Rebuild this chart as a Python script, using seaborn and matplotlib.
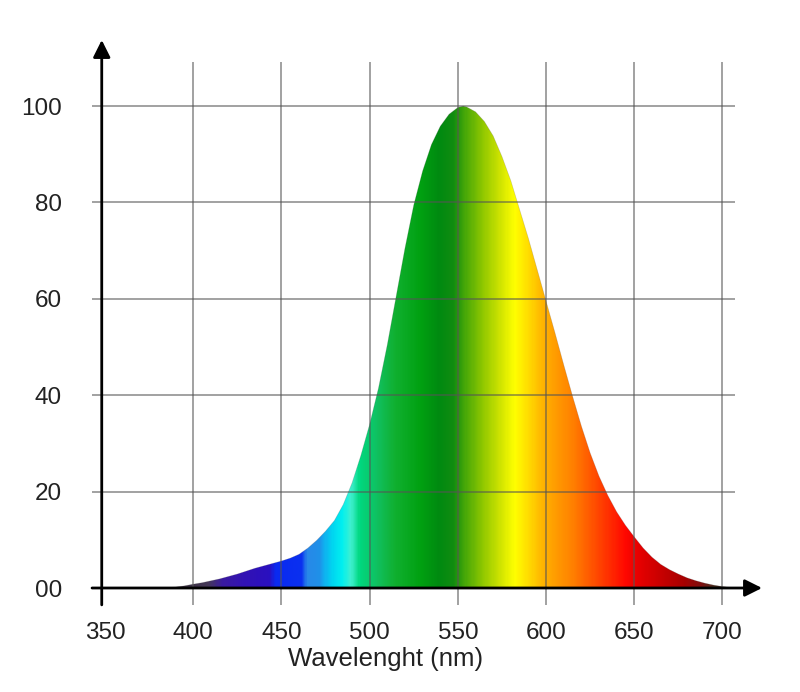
import numpy as np
import matplotlib
matplotlib.use("Agg")
import matplotlib.pyplot as plt
from matplotlib.colors import LinearSegmentedColormap
import seaborn as sns

# luminosity curve
wavelength = [380, 385, 390, 395, 400, 405, 410, 415, 420, 425, 430, 435, 440, 445,
              450, 455, 460, 465, 470, 475, 480, 485, 490, 495, 500, 505, 510, 515,
              520, 525, 530, 535, 540, 545, 550, 553, 555, 560, 565, 570, 575, 580, 585,
              590, 595, 600, 605, 610, 615, 620, 625, 630, 635, 640, 645, 650, 655,
              660, 665, 670, 675, 680, 685, 690, 695, 700, 705, 710]
luminosity = [0, 0.05, 0.2, 0.45, 0.8, 1.1, 1.5, 1.9, 2.4, 2.9, 3.5, 4.1, 4.6, 5.1,
              5.6, 6.2, 7.0, 8.3, 9.9, 11.8, 14.0, 17.3, 21.8, 27.5, 34.0, 41.5, 50.5, 60.5,
              70.5, 79.5, 86.5, 92.0, 95.8, 98.3, 99.7, 100, 99.8, 98.8, 96.8, 93.8, 89.5, 84.5, 78.5,
              72.5, 66.0, 59.5, 53.0, 46.3, 39.8, 33.6, 28.0, 23.2, 19.2, 15.8, 13.0, 10.6, 8.3,
              6.4, 4.9, 3.8, 2.9, 2.1, 1.5, 1.0, 0.6, 0.3, 0.1, 0]

x_ticks = [350, 400, 450, 500, 550, 600, 650, 700]
y_ticks = [0, 20, 40, 60, 80, 100]
y_tick_labels = ["00", "20", "40", "60", "80", "100"]

# spectrum colours under the curve
stop_nm = [380, 393, 408, 416, 428, 443, 446, 461, 464, 471, 474, 479, 484, 489,
           494, 504, 514, 529, 539, 547, 554, 564, 574, 582, 589, 597, 604, 615,
           625, 635, 645, 652, 665, 678, 688, 695, 710]
stop_col = ['#2a2a30', '#3a3040', '#453858', '#3a1aa0', '#3212b4', '#2a10c0', '#0a2af0',
            '#0a30f0', '#2888e8', '#2090e8', '#10b0f0', '#00d8f0', '#00f0f0', '#40f0d0',
            '#00d880', '#10c060', '#10b030', '#00a010', '#008a10', '#108c10', '#48a808',
            '#90c800', '#d0e400', '#ffff00', '#ffe000', '#ffb800', '#ffa000', '#ff8000',
            '#ff5800', '#ff3000', '#ff0800', '#e80000', '#c80000', '#a80000', '#801010',
            '#503020', '#302828']

sns.set_theme(style="white")
plt.rcParams['font.family'] = ['Liberation Sans', 'DejaVu Sans']

fig = plt.figure(figsize=(8, 6.92), dpi=100)
ax = fig.add_axes([0.09375, 0.1156, 0.88125, 0.841])

# spectrum fill, clipped to the area under the curve
pos = [(n - stop_nm[0]) / (stop_nm[-1] - stop_nm[0]) for n in stop_nm]
cmap = LinearSegmentedColormap.from_list("spec", list(zip(pos, stop_col)), N=512)
area = ax.fill_between(wavelength, luminosity, 0, color='none', lw=0)
grad = np.linspace(0, 1, 600).reshape(1, -1)
img = ax.imshow(grad, cmap=cmap, aspect='auto', origin='lower',
                extent=[stop_nm[0], stop_nm[-1], 0, 100.5], zorder=1)
img.set_clip_path(area.get_paths()[0], transform=ax.transData)
sns.lineplot(x=wavelength, y=luminosity, ax=ax, color='#555555', lw=0.5, alpha=0.25, zorder=2)

# grid, drawn over the fill
ax.vlines(x_ticks[1:], -3.5, 109.1, colors='#555555', lw=1.1, alpha=0.7, zorder=3)
ax.hlines(y_ticks[1:], 342.6, 707.1, colors='#555555', lw=1.1, alpha=0.7, zorder=3)

# axes with arrows
arrow = dict(arrowstyle='-|>', lw=2, color='black', mutation_scale=26, shrinkA=0, shrinkB=0)
ax.annotate('', xy=(722.4, 0), xytext=(342.6, 0), arrowprops=arrow, zorder=5)
ax.annotate('', xy=(348.1, 113.7), xytext=(348.1, -3.5), arrowprops=arrow, zorder=5)

ax.set_xlim(332.94, 732.6)
ax.set_ylim(-4.98, 115.77)
for s in ax.spines.values():
    s.set_visible(False)
ax.grid(False)

ax.set_xticks(x_ticks)
ax.set_xticklabels([str(t) for t in x_ticks])
ax.set_yticks(y_ticks)
ax.set_yticklabels(y_tick_labels)
ax.tick_params(axis='x', length=0, pad=7, labelsize=17.5, labelcolor='#222222')
ax.tick_params(axis='y', length=0, pad=9.4, labelsize=17.5, labelcolor='#222222')
ax.set_xlabel("Wavelenght (nm)", fontsize=18.5, color='#222222')
ax.xaxis.set_label_coords(0.441, -0.06)
ax.set_ylabel("")

fig.savefig("out.png", dpi=100, facecolor='white')
